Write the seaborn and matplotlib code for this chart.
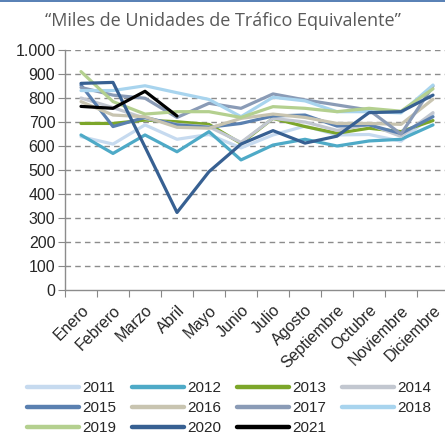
import numpy as np
import pandas as pd
import matplotlib
matplotlib.use('Agg')
import matplotlib.pyplot as plt
from matplotlib.lines import Line2D
from matplotlib.ticker import FuncFormatter, FixedLocator
import seaborn as sns

# Datos (miles de unidades de tráfico equivalente)
meses = ['Enero', 'Febrero', 'Marzo', 'Abril', 'Mayo', 'Junio', 'Julio',
         'Agosto', 'Septiembre', 'Octubre', 'Noviembre', 'Diciembre']

y2011 = [639, 608, 688, 628, 648, 592, 646, 683, 646, 648, 620, 733]
y2012 = [646, 569, 646, 576, 660, 542, 604, 628, 600, 621, 628, 688]
y2013 = [694, 694, 708, 701, 690, 611, 715, 681, 653, 674, 660, 706]
y2014 = [800, 760, 715, 690, 680, 615, 715, 700, 665, 690, 640, 739]
y2015 = [854, 681, 719, 688, 678, 694, 725, 729, 683, 688, 652, 722]
y2016 = [785, 729, 722, 678, 674, 715, 733, 719, 694, 694, 690, 795]
y2017 = [844, 812, 799, 719, 778, 757, 817, 792, 771, 750, 650, 850]
y2018 = [831, 831, 851, 822, 794, 722, 803, 788, 743, 743, 738, 854]
y2019 = [910, 785, 733, 743, 743, 719, 764, 757, 743, 757, 745, 838]
y2020 = [861, 865, 596, 323, 493, 608, 664, 612, 641, 739, 743, 812]
y2021 = [765, 757, 828, 725]

anios = ['2011', '2012', '2013', '2014', '2015', '2016', '2017', '2018',
         '2019', '2020', '2021']
series = [y2011, y2012, y2013, y2014, y2015, y2016, y2017, y2018,
          y2019, y2020, y2021]
colores = ['#c6daef', '#4eaac7', '#7ca62a', '#c2c7d0', '#5a80b0', '#c8c4b0',
           '#8a9bb6', '#a8d4ee', '#b4d08f', '#376092', '#000000']

filas = []
for anio, valores in zip(anios, series):
    for i, v in enumerate(valores):
        filas.append({'mes': i, 'anio': anio, 'valor': v})
df = pd.DataFrame(filas)

sns.set_style('white')
plt.rcParams['font.family'] = ['Liberation Sans', 'DejaVu Sans']

fig = plt.figure(figsize=(4.45, 4.38), dpi=100)
ax = fig.add_axes([65 / 445, 1 - 290 / 438, 384 / 445, 240 / 438])

sns.lineplot(data=df, x='mes', y='valor', hue='anio', hue_order=anios,
             palette=dict(zip(anios, colores)), linewidth=2.3, ax=ax,
             legend=False)

ax.set_xlim(-0.5, 11.5)
ax.set_ylim(0, 1000)
ax.set_xlabel('')
ax.set_ylabel('')

# Rejilla discontinua
ax.set_yticks(np.arange(0, 1001, 100))
for y in range(100, 1001, 100):
    ax.axhline(y, color='#8c8c8c', linestyle=(0, (4, 3)), linewidth=1.0,
               zorder=0)
ax.yaxis.set_major_formatter(FuncFormatter(lambda v, p: f'{v:,.0f}'.replace(',', '.')))
ax.tick_params(axis='y', labelsize=11.5, length=5, color='#888888',
               direction='out', pad=2, left=True)

# Marcas del eje x entre categorías, etiquetas en el centro
ax.xaxis.set_major_locator(FixedLocator(np.arange(-0.5, 11.6, 1)))
ax.xaxis.set_minor_locator(FixedLocator(np.arange(0, 12, 1)))
ax.set_xticklabels([])
ax.tick_params(axis='x', which='major', length=5, color='#888888',
               direction='out', bottom=True)
ax.tick_params(axis='x', which='minor', length=0, pad=9, labelsize=11.5)
ax.set_xticklabels(meses, minor=True, rotation=45, ha='right',
                   rotation_mode='anchor', fontsize=11.5)

for s in ['top', 'right']:
    ax.spines[s].set_visible(False)
for s in ['left', 'bottom']:
    ax.spines[s].set_color('#8c8c8c')
    ax.spines[s].set_linewidth(1.0)

# Título
fig.text(0.5, 0.952, '\u201cMiles de Unidades de Tráfico Equivalente\u201d',
         ha='center', va='center', fontsize=13, color='#595959',
         family=['Open Sans', 'DejaVu Sans'])

# Línea superior
fig.add_artist(Line2D([0, 1], [0.998, 0.998], color='#3a6aa8', linewidth=1.2))

# Leyenda: se reordena para que se lea por filas
ncol = 4
orden = [i for c in range(ncol) for i in range(c, len(anios), ncol)]
handles = [Line2D([0], [0], color=colores[i], linewidth=3.2) for i in orden]
etiquetas = [anios[i] for i in orden]
fig.legend(handles, etiquetas, loc='center', bbox_to_anchor=(0.515, 0.068),
           ncol=ncol, frameon=False, fontsize=11, handlelength=3.4,
           handletextpad=0.2, columnspacing=1.05, labelspacing=0.4,
           borderaxespad=0)

fig.savefig('out.png', dpi=100)
